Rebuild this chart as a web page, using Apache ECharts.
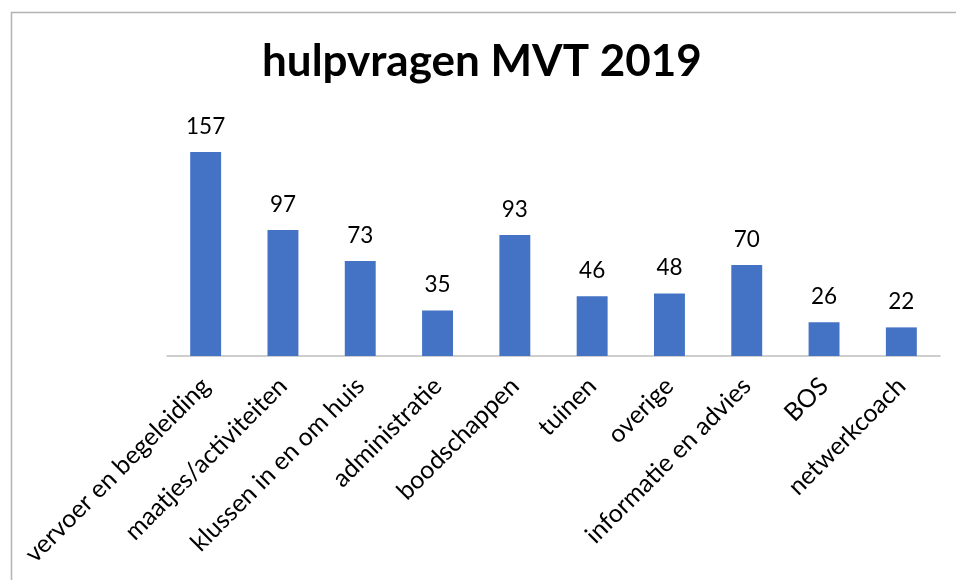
<!DOCTYPE html>
<html>
<head>
<meta charset="utf-8">
<script src="https://cdn.jsdelivr.net/npm/echarts@6/dist/echarts.min.js"></script>
<style>html,body{margin:0;padding:0;background:#fff}#c{width:956px;height:580px}</style>
</head>
<body>
<div id="c"></div>
<script>
const categories = ["vervoer en begeleiding","maatjes/activiteiten","klussen in en om huis","administratie","boodschappen","tuinen","overige","informatie en advies","BOS","netwerkcoach"];
const values = [157, 97, 73, 35, 93, 46, 48, 70, 26, 22];
const titleText = "hulpvragen MVT 2019";

const chart = echarts.init(document.getElementById('c'), null, {renderer:'canvas'});
chart.setOption({
  backgroundColor: '#ffffff',
  animation: false,
  title: {
    text: titleText,
    left: 257,
    top: 35,
    textStyle: {fontFamily: 'Lato', fontWeight: 'bold', fontSize: 44, color: '#000'}
  },
  graphic: [{
    type: 'rect', left: 9, top: 10,
    shape: {x: 0, y: 0, width: 1000, height: 1000},
    style: {fill: 'none', stroke: '#b3b3b3', lineWidth: 1.5}
  }],
  grid: {left: 167, right: 16, top: 122, bottom: 224, containLabel: false},
  xAxis: {
    type: 'category',
    data: categories,
    axisLine: {lineStyle: {color: '#bfbfbf', width: 1.5}},
    axisTick: {show: false},
    axisLabel: {
      interval: 0, rotate: 45, margin: 26, padding: [28, 0, 0, 0],
      fontFamily: 'Lato', fontSize: 25, color: '#000'
    }
  },
  yAxis: {type: 'value', min: 0, max: 180, show: false, splitLine: {show: false}},
  series: [{
    type: 'bar',
    data: values,
    barCategoryGap: '60%',
    itemStyle: {color: '#4472C4'},
    label: {show: true, position: 'top', distance: 14, fontFamily: 'Lato', fontSize: 22.5, color: '#000'}
  }]
});
</script>
</body>
</html>
